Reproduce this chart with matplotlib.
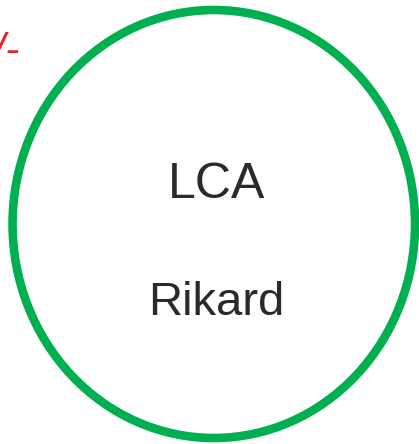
import matplotlib.pyplot as plt
from matplotlib.patches import Ellipse

# DATA------------------------------------------------------------------------------------------------------------------
labels = ["LCA", "Rikard"]
label_sizes = [36, 34]
corner_note = "+/-"

# FIGURE----------------------------------------------------------------------------------------------------------------
fig = plt.figure(figsize=(4.19, 4.44), dpi=100)
ax = fig.add_axes([0, 0, 1, 1])
ax.set_xlim(0, 419)
ax.set_ylim(444, 0)
ax.axis("off")

# the green ring
ring = Ellipse((213.8, 224), 402.5, 428, fill=False, edgecolor="#00B050", linewidth=6.2)
ax.add_patch(ring)

# two lines of text inside the ring
ax.text(217, 198, labels[0], fontsize=label_sizes[0], family="Liberation Sans",
        color="#2a2a2a", ha="center", va="baseline")
ax.text(216, 315, labels[1], fontsize=label_sizes[1], family="Liberation Sans",
        color="#2a2a2a", ha="center", va="baseline")

# red note in the corner, partly off the page as in the source slide
ax.text(20, 63, corner_note, fontsize=31, family="Liberation Sans", style="italic",
        color="#E8202A", ha="right", va="baseline")

plt.savefig("out.png", dpi=100)
